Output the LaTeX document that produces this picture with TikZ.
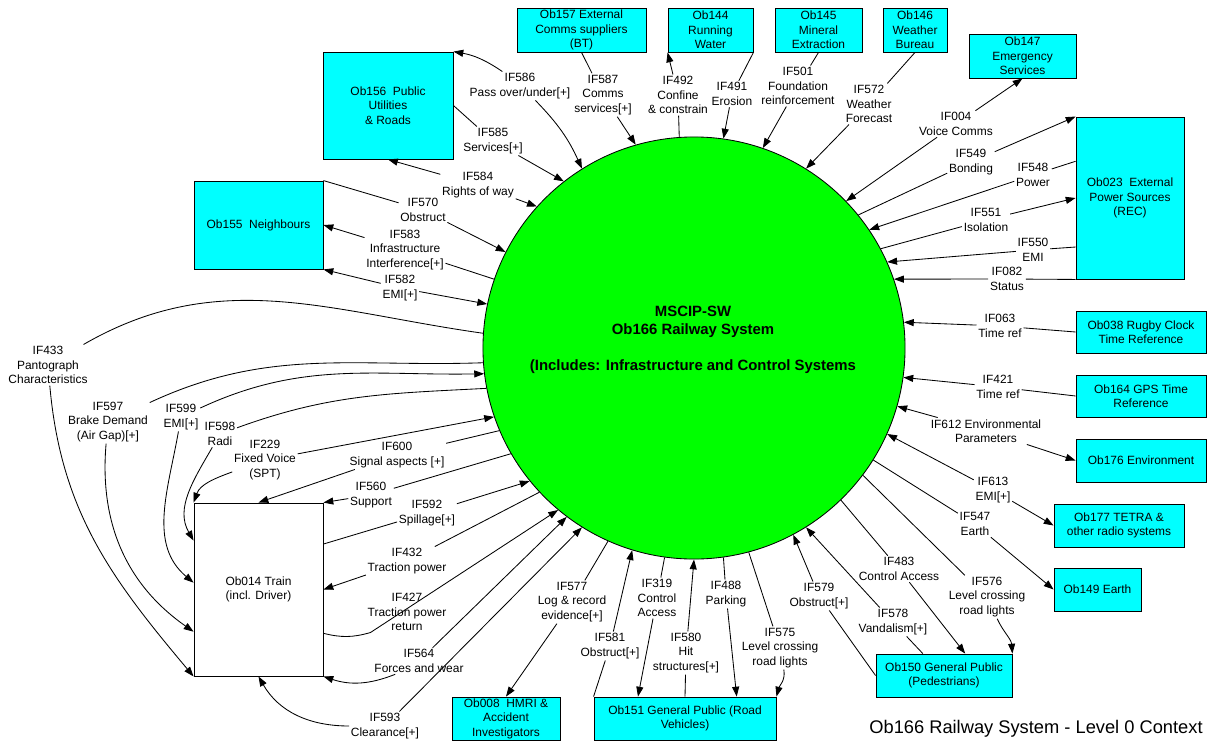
\documentclass[tikz,border=0pt]{standalone}
\usepackage{fontspec}
\setmainfont{Liberation Sans}
\usetikzlibrary{arrows.meta}

\definecolor{objcyan}{RGB}{0,255,255}
\definecolor{sysgreen}{RGB}{0,255,0}

\tikzset{
  every node/.style={font=\fontsize{8.5}{10.3}\selectfont},
  obj/.style={draw, fill=objcyan, align=center, inner sep=0.5pt},
  ifl/.style={fill=white, align=center, inner sep=1pt},
  >={Triangle[length=7pt,width=5pt]}
}

\begin{document}
\begin{tikzpicture}[x=0.025cm, y=-0.025cm, line width=0.6pt]
  \useasboundingbox (0,0) rectangle (1208,742);
  % the system under study (big circle)
  \node[circle, draw, fill=sysgreen, minimum size=10.55cm, inner sep=0pt] (sys) at (694,348) {};
  \node[align=center, font=\fontsize{10.6}{12.8}\selectfont\bfseries] (systxt) at (693,340)
    {MSCIP-SW\\Ob166 Railway System\\~\\(Includes: Infrastructure and Control Systems};
  % external objects (boxes)
  \node[obj, minimum width=3.25cm,  minimum height=2.675cm] (ob156) at (388,105.5) {Ob156~~Public\\Utilities\\\& Roads};
  \node[obj, minimum width=3.225cm, minimum height=2.2cm]   (ob155) at (258.5,225) {Ob155~~Neighbours};
  \node[obj, minimum width=3.225cm, minimum height=1.1cm]   (ob157) at (581.5,30) {Ob157 External\\Comms suppliers\\(BT)};
  \node[obj, minimum width=2.125cm, minimum height=1.1cm]   (ob144) at (710.5,30) {Ob144\\Running\\Water};
  \node[obj, minimum width=2.175cm, minimum height=1.1cm]   (ob145) at (818.5,30) {Ob145\\Mineral\\Extraction};
  \node[obj, minimum width=1.6cm,   minimum height=1.1cm]   (ob146) at (915,30) {Ob146\\Weather\\Bureau};
  \node[obj, minimum width=2.675cm, minimum height=1.1cm]   (ob147) at (1022.5,56) {Ob147\\Emergency\\Services};
  \node[obj, minimum width=2.7cm,   minimum height=4.05cm]  (ob023) at (1130,198) {Ob023~~External\\Power Sources\\(REC)};
  \node[obj, minimum width=3.25cm,  minimum height=1.05cm]  (ob038) at (1141,332) {Ob038 Rugby Clock\\Time Reference};
  \node[obj, minimum width=3.25cm,  minimum height=1.05cm]  (ob164) at (1141,396) {Ob164 GPS Time\\Reference};
  \node[obj, minimum width=3.25cm,  minimum height=1.075cm] (ob176) at (1141,460.5) {Ob176 Environment};
  \node[obj, minimum width=3.25cm,  minimum height=1.075cm] (ob177) at (1119,525.5) {Ob177 TETRA \&\\other radio systems};
  \node[obj, minimum width=2.175cm, minimum height=1.075cm] (ob149) at (1097.5,589.5) {Ob149 Earth};
  \node[obj, minimum width=3.4cm,   minimum height=1.075cm] (ob150) at (944,675.5) {Ob150 General Public\\(Pedestrians)};
  \node[obj, minimum width=4.55cm,  minimum height=1.075cm] (ob151) at (685,718.5) {Ob151 General Public (Road\\Vehicles)};
  \node[obj, minimum width=2.7cm,   minimum height=1.075cm] (ob008) at (506,718.5) {Ob008~~HMRI \&\\Accident\\Investigators};
  \node[obj, fill=white, minimum width=3.225cm, minimum height=4.325cm] (train) at (258.5,589.5) {Ob014 Train\\(incl. Driver)};
  % interface labels
  \node[ifl] (l586) at (520,86)  {IF586\\Pass over/under[+]};
  \node[ifl] (l585) at (493,141) {IF585\\Services[+]};
  \node[ifl] (l587) at (603,95)  {IF587\\Comms\\services[+]};
  \node[ifl] (l492) at (678,95)  {IF492\\Confine\\\& constrain};
  \node[ifl] (l491) at (732,94)  {IF491\\Erosion};
  \node[ifl] (l501) at (798,86)  {IF501\\Foundation\\reinforcement};
  \node[ifl] (l572) at (869,104) {IF572\\Weather\\Forecast};
  \node[ifl] (l004) at (956,124) {IF004\\Voice Comms};
  \node[ifl] (l549) at (971,162) {IF549\\Bonding};
  \node[ifl] (l548) at (1033,175) {IF548\\Power};
  \node[ifl] (l551) at (986,220) {IF551\\Isolation};
  \node[ifl] (l550) at (1033,250) {IF550\\EMI};
  \node[ifl] (l082) at (1007,279) {IF082\\Status};
  \node[ifl] (l063) at (1000,326) {IF063\\Time ref};
  \node[ifl] (l421) at (998,387) {IF421\\Time ref};
  \node[ifl] (l612) at (986,431) {IF612 Environmental\\Parameters};
  \node[ifl] (l613) at (993,490) {IF613\\EMI[+]};
  \node[ifl] (l547) at (975,524) {IF547\\Earth};
  \node[ifl] (l576) at (987,597) {IF576\\Level crossing\\road lights};
  \node[ifl] (l483) at (899,569) {IF483\\Control Access};
  \node[ifl] (l578) at (893,622) {IF578\\Vandalism[+]};
  \node[ifl] (l579) at (819,596) {IF579\\Obstruct[+]};
  \node[ifl] (l575) at (780,648) {IF575\\Level crossing\\road lights};
  \node[ifl] (l488) at (726,594) {IF488\\Parking};
  \node[ifl] (l580) at (686,653) {IF580\\Hit\\structures[+]};
  \node[ifl] (l319) at (657,598) {IF319\\Control\\Access};
  \node[ifl] (l581) at (610,646) {IF581\\Obstruct[+]};
  \node[ifl] (l577) at (572,602) {IF577\\Log \& record\\evidence[+]};
  \node[ifl] (l593) at (385,726) {IF593\\Clearance[+]};
  \node[ifl] (l564) at (419,661) {IF564\\Forces and wear};
  \node[ifl] (l427) at (407,612) {IF427\\Traction power\\return};
  \node[ifl] (l432) at (407,561) {IF432\\Traction power};
  \node[ifl] (l592) at (427,513) {IF592\\Spillage[+]};
  \node[ifl] (l560) at (371,495) {IF560\\Support};
  \node[ifl] (l600) at (397,455) {IF600\\Signal aspects [+]};
  \node[ifl] (l229) at (265,460) {IF229\\Fixed Voice\\(SPT)};
  \node[ifl] (l598) at (220,434) {IF598\\Radi};
  \node[ifl] (l599) at (181,417) {IF599\\EMI[+]};
  \node[ifl] (l597) at (108,422) {IF597\\Brake Demand\\(Air Gap)[+]};
  \node[ifl] (l433) at (48,365)  {IF433\\Pantograph\\Characteristics};
  \node[ifl] (l584) at (478,185) {IF584\\Rights of way};
  \node[ifl] (l570) at (423,210) {IF570\\Obstruct};
  \node[ifl] (l583) at (405,250) {IF583\\Infrastructure\\Interference[+]};
  \node[ifl] (l582) at (400,288) {IF582\\EMI[+]};
  % flows, top
  \draw[->] (l586) to[bend right=12] (ob156.north east);
  \draw[->] (l586) to[bend left=10] (sys.122);
  \draw[->] (ob156.east) -- (l585) -- (sys.128);
  \draw[->] (ob157.south) -- (l587) -- (sys.106);
  \draw[->] (sys.94) -- (l492) -- (ob144.south west);
  \draw[->] (ob144.south east) -- (l491) -- (sys.82);
  \draw[->] (ob145.south) -- (l501) -- (sys.71);
  \draw[->] (ob146.south) -- (l572) -- (sys.58);
  \draw[->] (l004) -- (ob147.south);
  \draw[->] (l004) -- (sys.44);
  % flows, right
  \draw[->] (sys.39) -- (l549) -- (ob023.north west);
  \draw[->] (ob023.146) -- (l548) -- (sys.34);
  \draw[->] (sys.28) -- (l551) -- (ob023.west);
  \draw[->] (ob023.222) -- (l550) -- (sys.24);
  \draw[->] (ob023.south west) -- (l082) -- (sys.19);
  \draw[->] (ob038.west) -- (l063) -- (sys.7);
  \draw[->] (ob164.west) -- (l421) -- (sys.-8);
  \draw[->] (l612) -- (sys.-16);
  \draw[->] (l612) -- (ob176.west);
  \draw[->] (l613) -- (sys.-24);
  \draw[->] (l613) -- (ob177.west);
  \draw[->] (sys.-32) -- (l547) -- (ob149.west);
  % flows, bottom
  \draw[->] (sys.-37) -- (l576) to[out=-65,in=95] (ob150.north east);
  \draw[->] (sys.-46) -- (l483) -- (ob150.46);
  \draw[->] (ob150.134) -- (l578) -- (sys.-58);
  \draw[->] (ob150.west) -- (l579) -- (sys.-62);
  \draw[->] (sys.-75) -- (l575) to[out=-80,in=75] (ob151.north east);
  \draw[->] (sys.-82) -- (l488) -- (ob151.23);
  \draw[->] (ob151.north) -- (l580) -- (sys.-90);
  \draw[->] (sys.-98) -- (l319) -- (ob151.155);
  \draw[->] (ob151.north west) -- (l581) -- (sys.-107);
  \draw[->] (sys.-114) -- (l577) -- (ob008.north);
  % flows, train
  \draw[->] (l593) -- (sys.238);
  \draw[->] (l593) to[out=180,in=-60] (train.south);
  \draw[->] (l564) -- (sys.233);
  \draw[->] (l564) to[bend left=20] (train.south east);
  \draw[->] (train.-34) to[bend right=15] (l427) -- (sys.230);
  \draw[->] (sys.223) -- (l432) -- (train.east);
  \draw[->] (train.35) -- (l592) -- (sys.219);
  \draw[->] (sys.210) -- (l560) -- (train.north east);
  \draw[->] (sys.203) -- (l600) -- (train.north);
  \draw[->] (l229) -- (sys.199);
  \draw[->] (l229) to[out=200,in=70] (train.north west);
  \draw[->] (sys.191) to[out=183,in=20] (l598) to[out=-120,in=120] (train.143);
  \draw[->] (l599) to[out=25,in=181] (sys.187);
  \draw[->] (l599) to[out=-100,in=140] (train.174);
  \draw[->] (sys.184) to[out=182,in=25] (l597) to[out=-95,in=145] (train.213);
  \draw[->] (sys.176) to[out=172,in=30] (l433) to[out=-85,in=130] (train.south west);
  % flows, left
  \draw[->] (l584) -- (ob156.south);
  \draw[->] (l584) -- (sys.138);
  \draw[->] (ob155.north east) -- (l570) -- (sys.153);
  \draw[->] (sys.161) -- (l583) -- (ob155.east);
  \draw[->] (l582) -- (ob155.south east);
  \draw[->] (l582) -- (sys.168);
  % caption
  \node[font=\fontsize{13}{15}\selectfont] (title) at (1036,729) {Ob166 Railway System - Level 0 Context};
\end{tikzpicture}
\end{document}
